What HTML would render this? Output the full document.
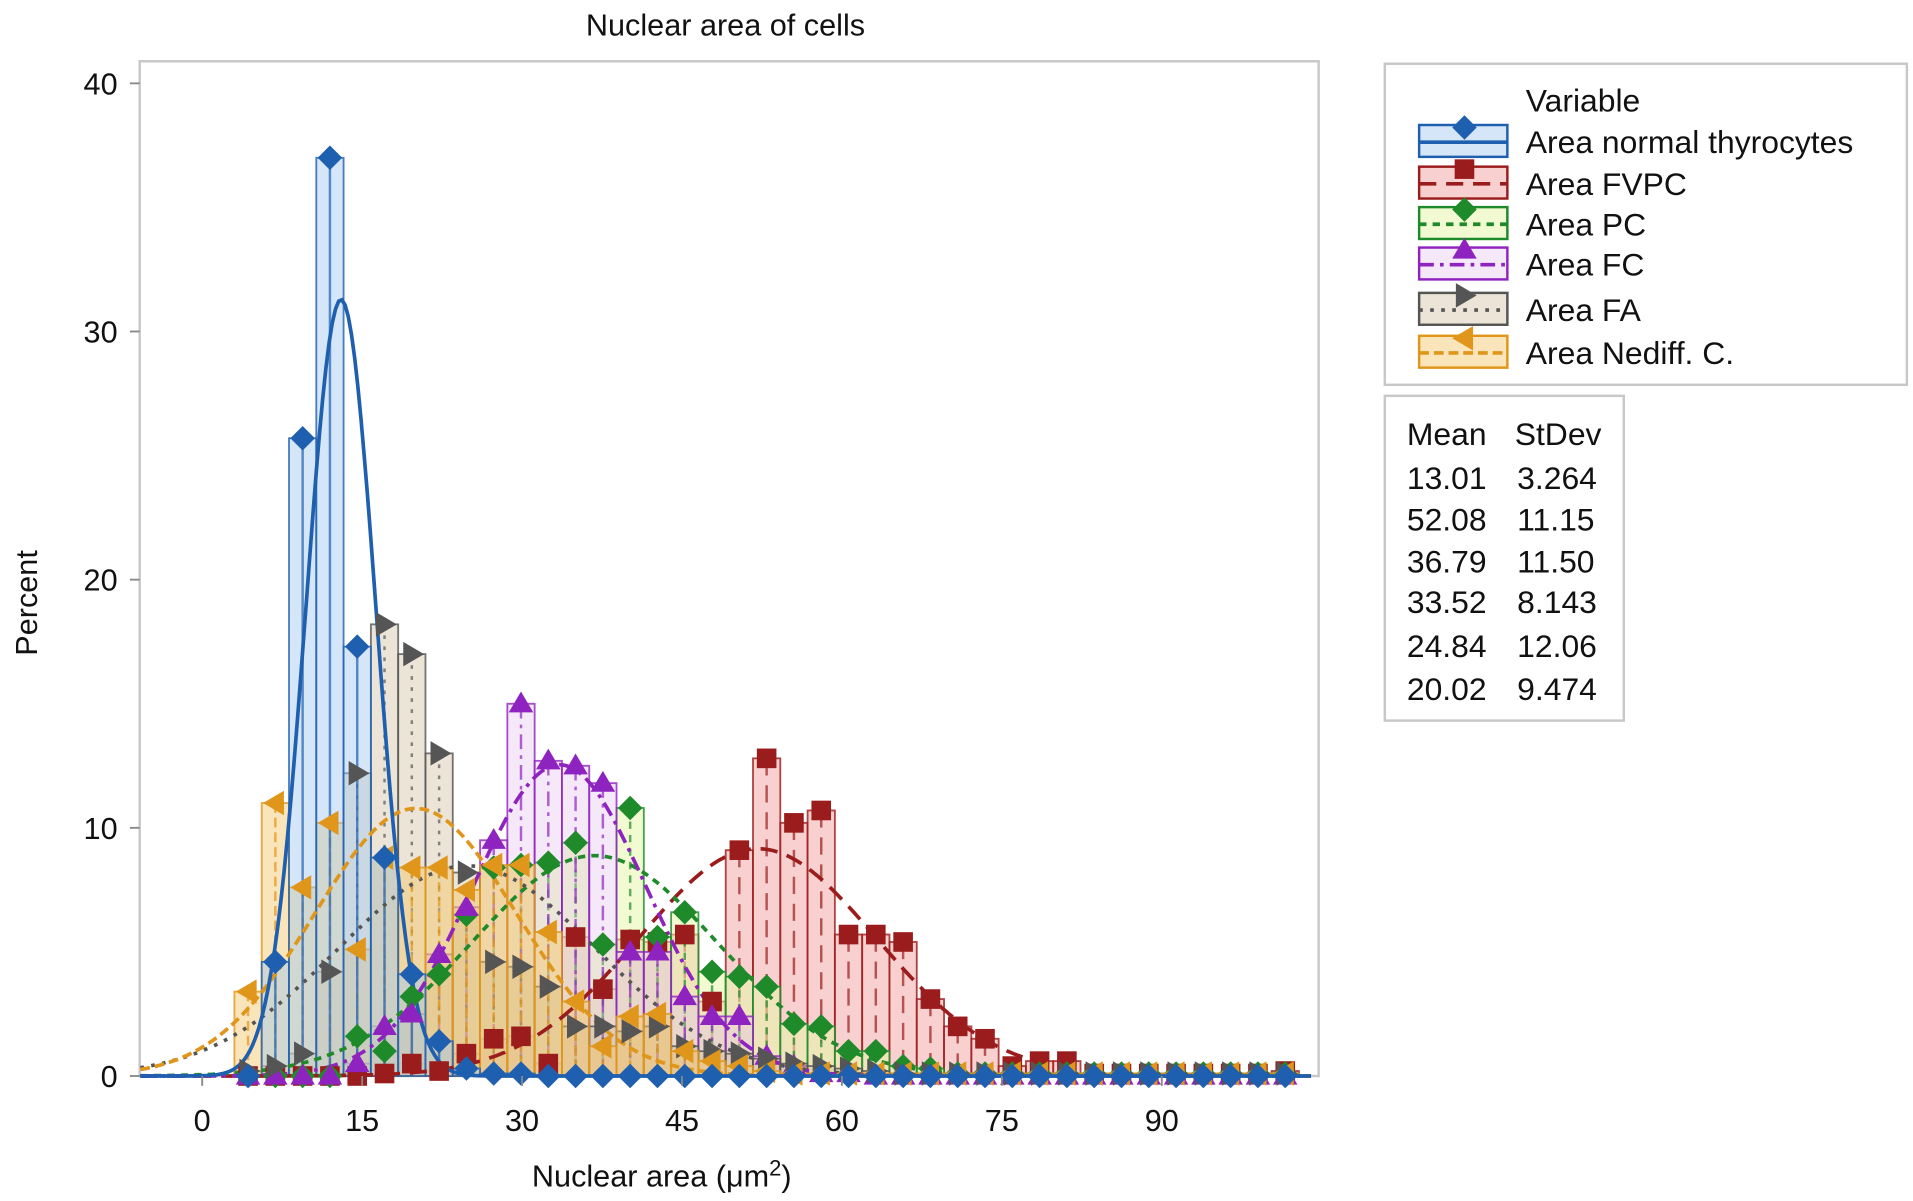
<!DOCTYPE html>
<html><head><meta charset="utf-8"><style>
html,body{margin:0;padding:0;background:#fff}
svg{display:block;font-family:"Liberation Sans",sans-serif}
</style></head><body>
<svg id="chart" width="1913" height="1201" viewBox="0 0 1561 980" preserveAspectRatio="none" xmlns="http://www.w3.org/2000/svg">
<text x="592" y="29" font-size="25" text-anchor="middle" fill="#111">Nuclear area of cells</text>
<rect x="114" y="50" width="962" height="828" fill="#fff" stroke="#c8c8c8" stroke-width="2"/>
<g id="bars"></g><g id="curves"></g><g id="marks"></g><g id="axes"></g>
<text transform="translate(30,492) rotate(-90)" font-size="25" text-anchor="middle" fill="#111">Percent</text>
<text x="540" y="968" font-size="25" text-anchor="middle" fill="#111">Nuclear area (μm<tspan dy="-9" font-size="18">2</tspan><tspan dy="9">)</tspan></text>
<g>
<rect x="1130" y="52" width="426" height="262" fill="#fff" stroke="#c8c8c8" stroke-width="2"/>
<text x="1245" y="91" font-size="26" fill="#111">Variable</text>
<g id="legend-items"></g>
</g>
<g>
<rect x="1130" y="323" width="195" height="265" fill="#fff" stroke="#c8c8c8" stroke-width="2"/>
<text x="1148" y="363" font-size="26" fill="#111">Mean</text>
<text x="1236" y="363" font-size="26" fill="#111">StDev</text>
<g id="stats-rows"></g>
</g>
</svg>
<script>
const seriesNames = ["Area normal thyrocytes","Area FVPC","Area PC","Area FC","Area FA","Area Nediff. C."];
const means = [13.01,52.08,36.79,33.52,24.84,20.02];
const sds = [3.264,11.15,11.50,8.143,12.06,9.474];
const meanLabels = ["13.01","52.08","36.79","33.52","24.84","20.02"];
const sdLabels = ["3.264","11.15","11.50","8.143","12.06","9.474"];
const binStart = 4.3, binWidth = 2.56;
const normalVals = [0,4.6,25.7,37,17.3,8.8,4.1,1.4,0.3,0.1,0.1,0,0,0,0,0,0,0,0,0,0,0,0,0,0,0,0,0,0,0,0,0,0,0,0,0,0,0,0];
const fvpcVals = [0,0,0,0,0,0.1,0.5,0.2,0.9,1.5,1.6,0.5,5.6,3.5,5.5,5.4,5.7,3.0,9.1,12.8,10.2,10.7,5.7,5.7,5.4,3.1,2.0,1.5,0.4,0.6,0.6,0.1,0.1,0.1,0.1,0.1,0.1,0.1,0.2];
const pcVals = [0,0,0,0,1.6,1.0,3.2,4.1,6.5,8.4,8.5,8.6,9.4,5.3,10.8,5.6,6.6,4.2,4.0,3.6,2.1,2.0,1.0,1.0,0.4,0.3,0.1,0.1,0.1,0.1,0.1,0.1,0.1,0.1,0.1,0.1,0.1,0.1,0.1];
const fcVals = [0,0,0,0,0.5,2.0,2.5,4.9,6.8,9.5,15.0,12.7,12.5,11.8,5.0,5.0,3.2,2.4,2.4,0.8,0.4,0.1,0.1,0,0,0,0,0,0,0,0,0,0,0,0,0,0,0,0];
const faVals = [0.2,0.4,0.9,4.2,12.2,18.2,17.0,13.0,8.2,4.6,4.4,3.6,2.0,2.0,1.8,2.0,1.2,1.0,0.9,0.7,0.5,0.4,0.3,0.2,0.1,0.1,0.1,0.1,0.1,0.1,0.1,0.1,0.1,0.1,0.1,0.1,0.1,0.1,0.1];
const ndVals = [3.4,11.0,7.6,10.2,5.1,8.8,8.4,8.4,7.5,8.5,8.5,5.8,3.0,1.2,2.4,2.5,1.0,0.6,0.4,0.2,0.1,0.1,0.1,0.1,0.1,0.1,0.1,0.1,0.1,0.1,0.1,0.1,0.1,0.1,0.1,0.1,0.1,0.1,0.1];
const xTicks = [0,15,30,45,60,75,90];
const yTicks = [0,10,20,30,40];

const colors = ["#1f5fb0","#9b1c1c","#1e8a2a","#8f23c0","#555555","#e0961a"];
const fills = ["rgba(160,200,240,0.45)","rgba(240,150,150,0.45)","rgba(230,245,170,0.55)","rgba(225,190,235,0.35)","rgba(200,180,140,0.35)","rgba(245,195,100,0.45)"];
const dashes = ["", "14,8", "6,5", "12,5,3,5", "3,6", "8,4"];
const allVals = [normalVals,fvpcVals,pcVals,fcVals,faVals,ndVals];
const NS = "http://www.w3.org/2000/svg";
function xs(v){return 165 + v*8.7;}
function ys(v){return 878 - v*20.25;}
function mk(tag,attrs,parent){const e=document.createElementNS(NS,tag);for(const k in attrs)e.setAttribute(k,attrs[k]);parent.appendChild(e);return e;}
function marker(i,cx,cy,parent){
  const c=colors[i];let e;const s=10;
  if(i===0||i===2) e=mk("polygon",{points:`${cx},${cy-s} ${cx+s},${cy} ${cx},${cy+s} ${cx-s},${cy}`,fill:c},parent);
  else if(i===1) e=mk("rect",{x:cx-8,y:cy-8,width:16,height:16,fill:c},parent);
  else if(i===3) e=mk("polygon",{points:`${cx},${cy-s} ${cx+s},${cy+7} ${cx-s},${cy+7}`,fill:c},parent);
  else if(i===4) e=mk("polygon",{points:`${cx+s},${cy} ${cx-7},${cy-s} ${cx-7},${cy+s}`,fill:c},parent);
  else e=mk("polygon",{points:`${cx-s},${cy} ${cx+7},${cy-s} ${cx+7},${cy+s}`,fill:c},parent);
  return e;
}
const bars=document.getElementById("bars"), curves=document.getElementById("curves"), marks=document.getElementById("marks"), axes=document.getElementById("axes");
const order=[1,2,3,4,5,0];
order.forEach(si=>{
  const vals=allVals[si];
  vals.forEach((v,i)=>{
    if(v<=0) return;
    const c=binStart+i*binWidth, x0=xs(c-binWidth/2), x1=xs(c+binWidth/2);
    const r=mk("rect",{x:x0,y:ys(v),width:x1-x0,height:ys(0)-ys(v),fill:fills[si],stroke:colors[si],"stroke-width":1.5,"stroke-opacity":0.8},bars);
    
    
    const l=mk("line",{x1:xs(c),x2:xs(c),y1:ys(v),y2:ys(0),stroke:colors[si],"stroke-width":2,"stroke-dasharray":dashes[si]||"none","stroke-opacity":0.7},bars);
    
    
  });
});
order.forEach(si=>{
  const m=means[si], s=sds[si];let d="";
  for(let x=-5.8;x<=104;x+=0.3){
    const y=binWidth*100*Math.exp(-0.5*((x-m)/s)**2)/(s*Math.sqrt(2*Math.PI));
    d+=(d?"L":"M")+xs(x).toFixed(1)+","+ys(y).toFixed(1);
  }
  const p=mk("path",{d:d,fill:"none",stroke:colors[si],"stroke-width":3,"stroke-dasharray":dashes[si]||"none"},curves);
  
  
});
order.forEach(si=>{
  allVals[si].forEach((v,i)=>{
    const c=binStart+i*binWidth;
    const e=marker(si,xs(c),ys(v),marks);
    
    
  });
});
yTicks.forEach(t=>{
  const l=mk("line",{x1:106,x2:114,y1:ys(t),y2:ys(t),stroke:"#888","stroke-width":1.5},axes);
  
  
  const tx=mk("text",{x:96,y:ys(t)+9,"font-size":25,"text-anchor":"end",fill:"#111"},axes);
  tx.textContent=t;
  
  
});
xTicks.forEach(t=>{
  const l=mk("line",{x1:xs(t),x2:xs(t),y1:878,y2:886,stroke:"#888","stroke-width":1.5},axes);
  
  
  const tx=mk("text",{x:xs(t),y:923,"font-size":25,"text-anchor":"middle",fill:"#111"},axes);
  tx.textContent=t;
  
  
});
const li=document.getElementById("legend-items");
const ly=[116,150,183,216,253,288];
seriesNames.forEach((n,i)=>{
  const y=ly[i];
  const g=mk("g",{},li);
  
  
  mk("rect",{x:1158,y:y-14,width:72,height:26,fill:fills[i],stroke:colors[i],"stroke-width":2},g);
  mk("line",{x1:1158,x2:1230,y1:y,y2:y,stroke:colors[i],"stroke-width":3,"stroke-dasharray":dashes[i]||"none"},g);
  marker(i,1195,y-12,g);
  const t=mk("text",{x:1245,y:y+9,"font-size":26,fill:"#111"},g);
  t.textContent=n;
});
const sr=document.getElementById("stats-rows");
const ry=[390,424,458,491,527,562];
meanLabels.forEach((m,i)=>{
  const a=mk("text",{x:1148,y:ry[i]+9,"font-size":26,fill:"#111"},sr);
  a.textContent=m;
  
  
  const b=mk("text",{x:1238,y:ry[i]+9,"font-size":26,fill:"#111"},sr);
  b.textContent=sdLabels[i];
  
  
});
</script>
</body></html>
